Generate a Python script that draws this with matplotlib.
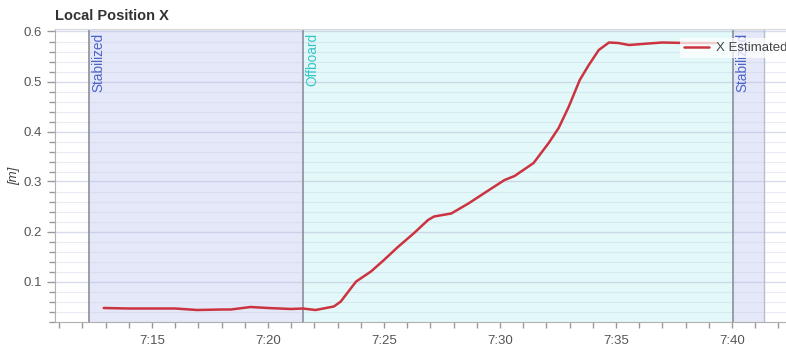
import matplotlib
matplotlib.use("Agg")
import matplotlib.pyplot as plt
from matplotlib.ticker import MultipleLocator, FuncFormatter

plt.rcParams['font.family'] = ['Liberation Sans', 'DejaVu Sans']

# Time in minutes after 7:00, local X position estimate in metres
t_min = [12.92, 14.0, 15.0, 16.0, 16.95, 18.0, 18.4, 19.25, 20.0, 21.0, 21.5,
         22.05, 22.84, 23.14, 23.5, 23.8, 24.44, 25.0, 25.6, 26.3, 26.9, 27.16,
         27.9, 28.64, 29.63, 30.2, 30.63, 31.45, 32.1, 32.53, 32.96, 33.44,
         33.83, 34.26, 34.7, 35.1, 35.56, 36.4, 37.0, 38.0, 39.3]
x_est = [0.047, 0.046, 0.046, 0.046, 0.043, 0.044, 0.044, 0.049, 0.047, 0.045,
         0.046, 0.043, 0.050, 0.060, 0.082, 0.100, 0.120, 0.143, 0.169, 0.197,
         0.223, 0.230, 0.236, 0.256, 0.286, 0.303, 0.311, 0.337, 0.377, 0.407,
         0.449, 0.503, 0.533, 0.563, 0.578, 0.577, 0.573, 0.576, 0.578, 0.577,
         0.577]

# Flight mode segments: (name, start, end, fill colour, text colour)
mode_names = ["Stabilized", "Offboard", "Stabilized"]
mode_start = [12.27, 21.5, 40.06]
mode_end = [21.5, 40.06, 41.4]
mode_fill = ["#e5e8f8", "#e3f8f8", "#e5e8f8"]
mode_text = ["#4a63c8", "#33c6c6", "#4a63c8"]

fig = plt.figure(figsize=(7.86, 3.49), dpi=100)
ax = fig.add_axes([55 / 786, 1 - 322 / 349, 1 - 55 / 786, (322 - 29) / 349])

for name, s, e, fc, tc in zip(mode_names, mode_start, mode_end, mode_fill, mode_text):
    ax.axvspan(s, e, color=fc, lw=0, zorder=0)
    ax.axvline(s, color="#8a8f99", lw=1.2, zorder=1)
    ax.text(s + 0.1, 0.597, name, rotation=90, ha="left", va="top",
            color=tc, fontsize=9.8, zorder=2)
ax.axvline(mode_end[-1], color="#b8bccc", lw=1.0, zorder=1)

ax.plot(t_min, x_est, color="#cc3340", lw=1.8, label="X Estimated", zorder=3,
        solid_joinstyle="round", solid_capstyle="round")

ax.set_xlim(10.82, 42.33)
ax.set_ylim(0.019, 0.605)

ax.xaxis.set_major_locator(MultipleLocator(5))
ax.xaxis.set_minor_locator(MultipleLocator(1))
ax.xaxis.set_major_formatter(FuncFormatter(lambda v, p: f"7:{int(round(v)):02d}"))
ax.yaxis.set_major_locator(MultipleLocator(0.1))
ax.yaxis.set_minor_locator(MultipleLocator(0.02))
ax.yaxis.set_major_formatter(FuncFormatter(lambda v, p: f"{v:.1f}"))

ax.grid(axis="y", which="major", color="#b8bedc", alpha=0.55, lw=1.0, zorder=0.5)
ax.grid(axis="y", which="minor", color="#c8d0e4", alpha=0.4, lw=0.8, zorder=0.5)
ax.set_axisbelow(True)

ax.tick_params(axis="both", which="major", colors="#999999", labelcolor="#555555",
               labelsize=9.5, length=6, width=1)
ax.tick_params(axis="both", which="minor", colors="#999999", length=4, width=1)
ax.tick_params(axis="x", which="major", length=4, pad=5)

for side in ["left", "bottom"]:
    ax.spines[side].set_color("#b0b0b0")
ax.spines["top"].set_color("#d8d8d8")
ax.spines["right"].set_visible(False)

ax.set_ylabel("[m]", fontstyle="italic", color="#444444", fontsize=9.5, labelpad=2)
fig.text(55 / 786, 1 - 16 / 349, "Local Position X", fontsize=10.5, fontweight="bold",
         color="#333333", ha="left", va="center")

leg = ax.legend(loc="upper left", bbox_to_anchor=(680 / 786, 1 - 38 / 349),
                bbox_transform=fig.transFigure, frameon=True, fancybox=False,
                facecolor="white", framealpha=0.75, edgecolor="none",
                fontsize=9.5, handlelength=1.9, handletextpad=0.5,
                borderpad=0.3, borderaxespad=0)
for txt in leg.get_texts():
    txt.set_color("#444444")

fig.savefig("out.png", dpi=100)
